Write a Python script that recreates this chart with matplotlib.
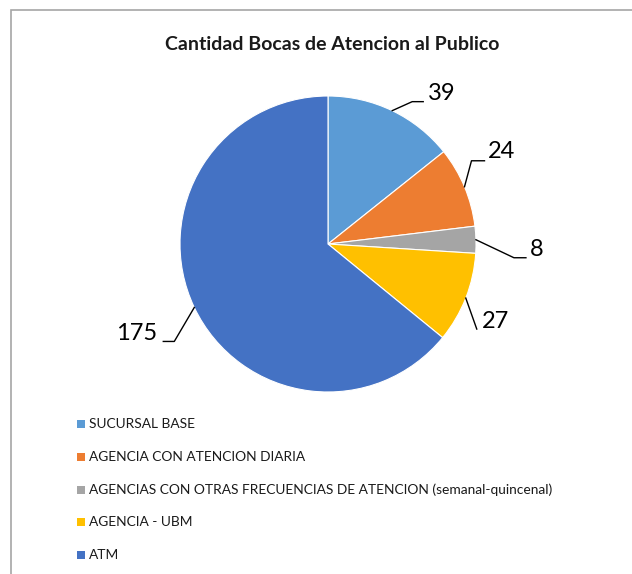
import matplotlib.pyplot as plt
import numpy as np
from matplotlib.patches import Rectangle

categories = ['SUCURSAL BASE', 'AGENCIA CON ATENCION DIARIA',
              'AGENCIAS CON OTRAS FRECUENCIAS DE ATENCION (semanal-quincenal)',
              'AGENCIA - UBM', 'ATM']
values = [39, 24, 8, 27, 175]
colors = ['#5B9BD5', '#ED7D31', '#A5A5A5', '#FFC000', '#4472C4']

# leader elbows and label anchors, as offsets (px) from the slice edge midpoint
elbow_offsets = [(20, 9), (7, 26), (38, -18), (11, -31), (-20, -34)]
label_offsets = [(36, 17), (23, 35), (54, -10), (16, -23), (-37, -26)]
shelf = [11, 13, 12, 0, -11]

W, H = 632, 574
fig = plt.figure(figsize=(W / 100, H / 100), dpi=100)
ax = fig.add_axes([0, 0, 1, 1])

# chart border (cropped on right and bottom)
ax.add_patch(Rectangle((11, -5), W, H - 10 + 5, fill=False, edgecolor='#A6A6A6', linewidth=1.2))

ax.text(332, H - 44, 'Cantidad Bocas de Atencion al Publico', ha='center', va='center',
        fontsize=14, fontweight='bold', family='Lato', color='#1a1a1a')

cx, cy, r = 328, H - 244, 148
wedges, _ = ax.pie(values, colors=colors, startangle=90, counterclock=False,
                   center=(cx, cy), radius=r, frame=True,
                   wedgeprops=dict(edgecolor='white', linewidth=0.8))
ax.set_xlim(0, W)
ax.set_ylim(0, H)
ax.axis('off')

for w, v, eo, lo, sh in zip(wedges, values, elbow_offsets, label_offsets, shelf):
    ang = np.deg2rad((w.theta1 + w.theta2) / 2)
    x0, y0 = cx + r * np.cos(ang), cy + r * np.sin(ang)
    x1, y1 = x0 + eo[0], y0 + eo[1]
    x2 = x1 + sh
    ax.plot([x0, x1, x2], [y0, y1, y1], color='black', linewidth=1)
    ha = 'right' if lo[0] < 0 else 'left'
    ax.text(x0 + lo[0], y0 + lo[1], str(v), ha=ha, va='center',
            fontsize=17, family='Lato', color='black')

# legend
for i, (name, c) in enumerate(zip(categories, colors)):
    y = H - (424 + i * 32.75)
    ax.add_patch(Rectangle((77, y - 4), 8, 8, facecolor=c, edgecolor='none'))
    ax.text(89, y, name, ha='left', va='center', fontsize=9.9, family='Lato', color='#1a1a1a')

fig.savefig('out.png', dpi=100)
